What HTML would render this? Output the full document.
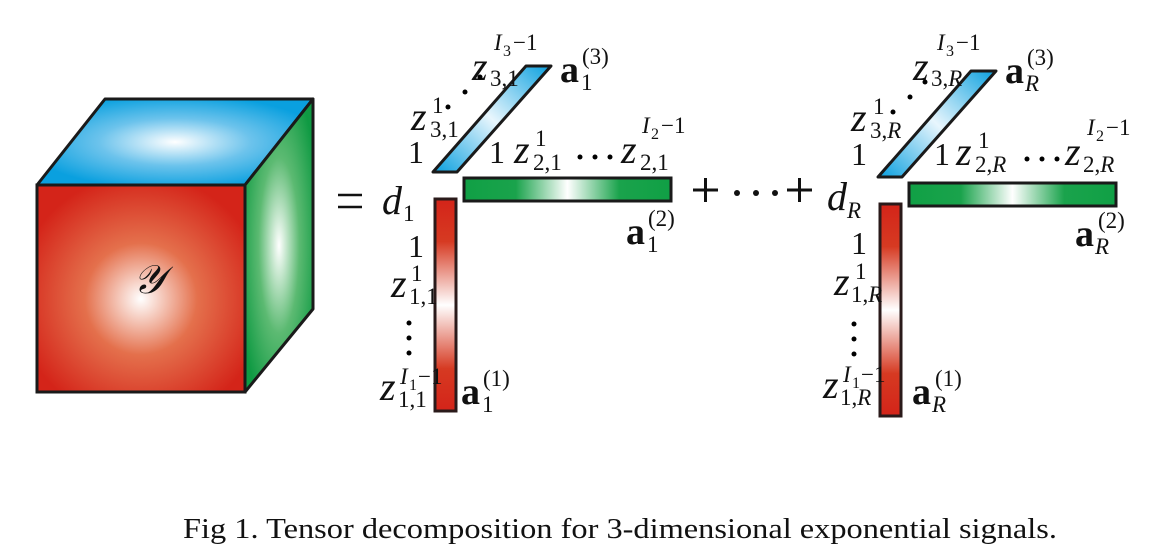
<!DOCTYPE html>
<html><head><meta charset="utf-8"><style>
html,body{margin:0;padding:0;background:#fff;}
svg{display:block;}
text{font-family:"Liberation Serif","Times New Roman",Times,serif;fill:#111;}
.z{font-style:italic;font-size:40px;}
.s{font-size:23px;}
.si{font-size:23px;font-style:italic;}
.b{font-weight:bold;font-size:38px;}
.n{font-size:32px;}
</style></head><body>
<svg width="1169" height="558" viewBox="0 0 1169 558" xmlns="http://www.w3.org/2000/svg">
<defs>
<radialGradient id="gr" cx="50%" cy="55%" r="60%"><stop offset="0" stop-color="#fff"/><stop offset="0.45" stop-color="#e4704c"/><stop offset="1" stop-color="#d42419"/></radialGradient>
<radialGradient id="gb" cx="50%" cy="50%" r="55%"><stop offset="0" stop-color="#fff"/><stop offset="0.5" stop-color="#6cc3ec"/><stop offset="1" stop-color="#0aa0df"/></radialGradient>
<radialGradient id="gg" cx="50%" cy="50%" r="60%"><stop offset="0" stop-color="#fff"/><stop offset="0.5" stop-color="#5cba72"/><stop offset="1" stop-color="#0f9a43"/></radialGradient>
<linearGradient id="lg" x1="0" x2="1" y1="0" y2="0"><stop offset="0" stop-color="#10a045"/><stop offset="0.25" stop-color="#1aa34c"/><stop offset="0.5" stop-color="#fff"/><stop offset="0.75" stop-color="#1aa34c"/><stop offset="1" stop-color="#10a045"/></linearGradient>
<linearGradient id="lr" x1="0" x2="0" y1="0" y2="1"><stop offset="0" stop-color="#d42419"/><stop offset="0.2" stop-color="#d63a22"/><stop offset="0.5" stop-color="#fff"/><stop offset="0.8" stop-color="#d63a22"/><stop offset="1" stop-color="#d42419"/></linearGradient>
<linearGradient id="lb" x1="0" x2="1" y1="1" y2="0"><stop offset="0" stop-color="#0aa0df"/><stop offset="0.5" stop-color="#e8f6fd"/><stop offset="1" stop-color="#0aa0df"/></linearGradient>
</defs>
<polygon points="37,185 105,99 313,99 245,185" fill="url(#gb)" stroke="#1a1a1a" stroke-width="3" stroke-linejoin="round"/>
<polygon points="245,185 313,99 313,309 245,392" fill="url(#gg)" stroke="#1a1a1a" stroke-width="3" stroke-linejoin="round"/>
<rect x="37" y="185" width="208" height="207" fill="url(#gr)" stroke="#1a1a1a" stroke-width="3"/>
<text x="133" y="293" style="font-style:italic;font-size:40px;">𝒴</text>
<path d="M338 195 H362 M338 207 H362" stroke="#111" stroke-width="2.5"/>

<g>
<polygon points="526,66 551,66 457,172 433,172" fill="url(#lb)" stroke="#1a1a1a" stroke-width="3" stroke-linejoin="round"/>
<rect x="464" y="178" width="207" height="23" fill="url(#lg)" stroke="#1a1a1a" stroke-width="3"/>
<rect x="435" y="199" width="21" height="212" fill="url(#lr)" stroke="#2a1a1a" stroke-width="3"/>
<text class="z" x="472" y="80">z</text><text class="si" x="494" y="50">I</text><text class="s" x="503" y="56" style="font-size:16px">3</text><text class="s" x="513" y="50">−1</text><text class="s" x="490" y="86">3,1</text>
<text class="b" x="560" y="82">a</text><text class="s" x="581" y="90">1</text><text class="s" x="582" y="64">(3)</text>
<circle cx="480" cy="77" r="2.5"/><circle cx="465" cy="92" r="2.5"/><circle cx="448" cy="107" r="2.5"/>
<text class="z" x="411" y="130">z</text><text class="s" x="432" y="113">1</text><text class="s" x="430" y="137">3,1</text>
<text class="n" x="408" y="163">1</text>
<text class="n" x="489" y="163">1</text>
<text class="z" x="514" y="163">z</text><text class="s" x="535" y="146">1</text><text class="s" x="533" y="170">2,1</text>
<circle cx="580" cy="157" r="2.5"/><circle cx="595" cy="157" r="2.5"/><circle cx="610" cy="157" r="2.5"/>
<text class="z" x="621" y="163">z</text><text class="si" x="642" y="133">I</text><text class="s" x="651" y="139" style="font-size:16px">2</text><text class="s" x="661" y="133">−1</text><text class="s" x="640" y="170">2,1</text>
<text class="z" x="382" y="214">d</text><text class="s" x="403" y="221">1</text>
<text class="b" x="626" y="244">a</text><text class="s" x="647" y="252">1</text><text class="s" x="648" y="226">(2)</text>
<text class="n" x="408" y="257">1</text>
<text class="z" x="391" y="297">z</text><text class="s" x="411" y="281">1</text><text class="s" x="409" y="304">1,1</text>
<circle cx="409" cy="323" r="2.5"/><circle cx="409" cy="338" r="2.5"/><circle cx="409" cy="353" r="2.5"/>
<text class="z" x="380" y="400">z</text><text class="si" x="400" y="384">I</text><text class="s" x="409" y="390" style="font-size:16px">1</text><text class="s" x="418" y="384">−1</text><text class="s" x="398" y="407">1,1</text>
<text class="b" x="461" y="404">a</text><text class="s" x="482" y="412">1</text><text class="s" x="483" y="386">(1)</text>
</g>

<path d="M693 190 H718 M705.5 178 V202 M787 190 H812 M799.5 178 V202" stroke="#111" stroke-width="3"/>
<circle cx="737" cy="193" r="3" fill="#111"/><circle cx="756" cy="193" r="3" fill="#111"/><circle cx="775" cy="193" r="3" fill="#111"/>

<g transform="translate(445,5)">
<polygon points="526,66 551,66 457,172 433,172" fill="url(#lb)" stroke="#1a1a1a" stroke-width="3" stroke-linejoin="round"/>
<rect x="464" y="178" width="207" height="23" fill="url(#lg)" stroke="#1a1a1a" stroke-width="3"/>
<rect x="435" y="199" width="21" height="212" fill="url(#lr)" stroke="#2a1a1a" stroke-width="3"/>
<text class="z" x="468" y="75">z</text><text class="si" x="492" y="45">I</text><text class="s" x="501" y="51" style="font-size:16px">3</text><text class="s" x="511" y="45">−1</text><text class="s" x="486" y="81">3,<tspan font-style="italic">R</tspan></text>
<text class="b" x="560" y="78">a</text><text class="si" x="580" y="86">R</text><text class="s" x="582" y="60">(3)</text>
<circle cx="480" cy="77" r="2.5"/><circle cx="465" cy="92" r="2.5"/><circle cx="448" cy="107" r="2.5"/>
<text class="z" x="406" y="126">z</text><text class="s" x="428" y="109">1</text><text class="s" x="425" y="133">3,<tspan font-style="italic">R</tspan></text>
<text class="n" x="406" y="160">1</text>
<text class="n" x="489" y="160">1</text>
<text class="z" x="511" y="160">z</text><text class="s" x="533" y="143">1</text><text class="s" x="530" y="167">2,<tspan font-style="italic">R</tspan></text>
<circle cx="582" cy="154" r="2.5"/><circle cx="597" cy="154" r="2.5"/><circle cx="612" cy="154" r="2.5"/>
<text class="z" x="620" y="160">z</text><text class="si" x="642" y="130">I</text><text class="s" x="651" y="136" style="font-size:16px">2</text><text class="s" x="661" y="130">−1</text><text class="s" x="638" y="167">2,<tspan font-style="italic">R</tspan></text>
<text class="z" x="382" y="205">d</text><text class="si" x="402" y="213">R</text>
<text class="b" x="630" y="241">a</text><text class="si" x="650" y="249">R</text><text class="s" x="653" y="223">(2)</text>
<text class="n" x="406" y="249">1</text>
<text class="z" x="389" y="290">z</text><text class="s" x="410" y="274">1</text><text class="s" x="406" y="297">1,<tspan font-style="italic">R</tspan></text>
<circle cx="409" cy="319" r="2.5"/><circle cx="409" cy="334" r="2.5"/><circle cx="409" cy="349" r="2.5"/>
<text class="z" x="378" y="393">z</text><text class="si" x="398" y="377">I</text><text class="s" x="407" y="383" style="font-size:16px">1</text><text class="s" x="416" y="377">−1</text><text class="s" x="395" y="400">1,<tspan font-style="italic">R</tspan></text>
<text class="b" x="467" y="399">a</text><text class="si" x="487" y="407">R</text><text class="s" x="490" y="381">(1)</text>
</g>

<text x="183" y="538" textLength="874" lengthAdjust="spacingAndGlyphs" style="font-size:29px;">Fig 1.  Tensor decomposition for 3-dimensional exponential signals.</text>
</svg>
</body></html>
